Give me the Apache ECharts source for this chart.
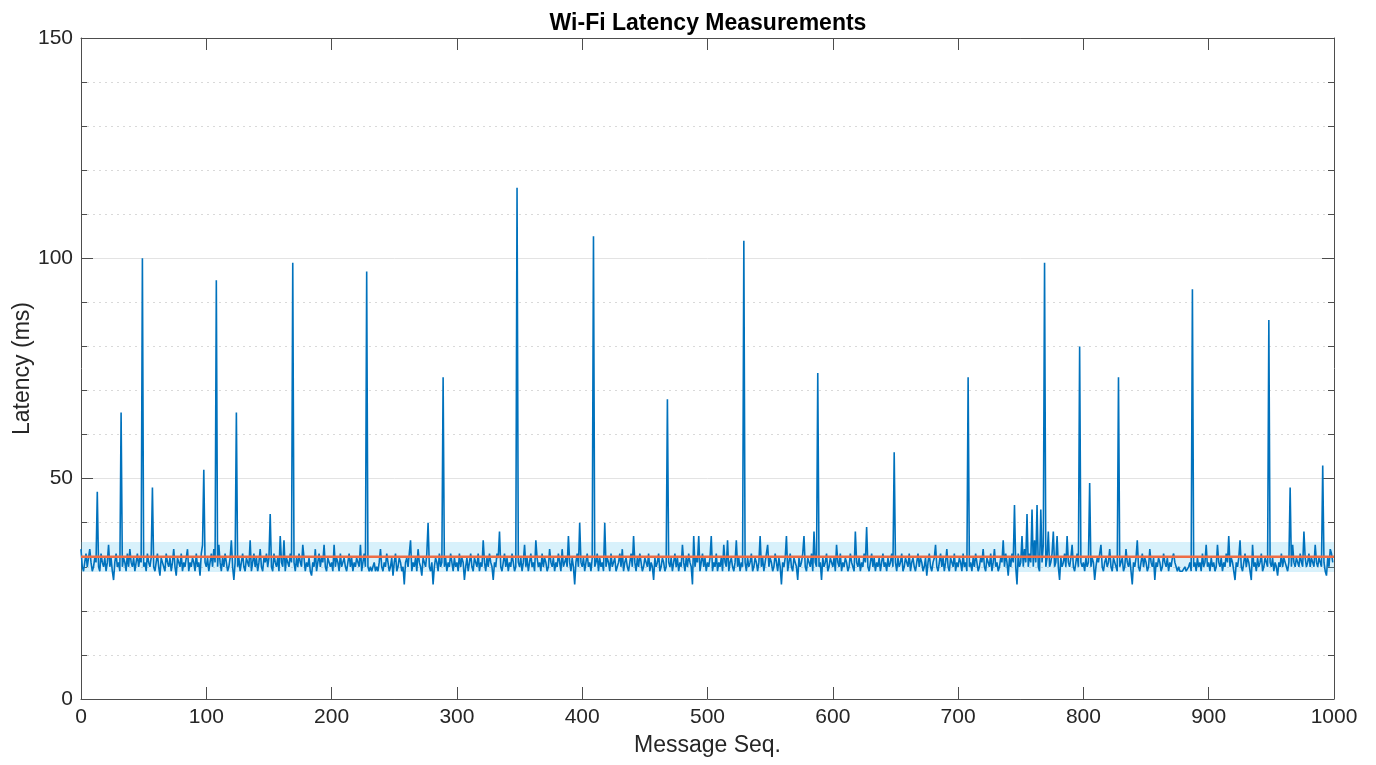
<!DOCTYPE html>
<html>
<head>
<meta charset="utf-8">
<title>Wi-Fi Latency Measurements</title>
<script src="https://cdn.jsdelivr.net/npm/echarts@6/dist/echarts.min.js"></script>
<style>
  html, body { margin: 0; padding: 0; background: #fff; }
  #chart { width: 1376px; height: 765px; }
</style>
</head>
<body>
<div id="chart"></div>
<script>
// latency per message, 100 messages per block (ms)
const block0 = [34,30,29,31,33,30,32,34,31,29, 30,32,31,47,30,29,33,31,30,32, 29,31,35,30,32,29,27,31,33,30, 31,29,65,30,32,31,29,33,30,34, 31,30,32,29,31,33,30,32,31,100, 30,31,29,33,31,30,32,48,30,29, 31,33,30,28,32,31,30,29,33,31, 30,32,29,31,34,30,28,32,31,30, 33,29,31,30,32,34,29,31,30,32, 31,29,33,30,31,28,33,35,52,31]
const block1 = [30,32,29,31,33,30,34,31,95,30, 35,31,29,32,30,33,31,29,30,32, 36,30,27,31,65,30,32,29,31,33, 30,29,32,31,30,36,29,31,33,30, 32,29,31,34,30,29,32,31,33,30, 32,42,30,29,33,31,30,32,29,37, 31,30,36,29,32,31,30,33,31,99, 31,29,32,30,33,31,30,35,32,29, 31,30,32,29,28,31,30,34,29,31, 33,30,32,31,35,30,29,32,31,30]
const block2 = [31,29,35,30,32,31,29,33,30,31, 32,30,29,31,33,30,32,29,31,30, 32,31,30,35,29,31,33,30,97,30, 29,30,29,30,31,29,30,29,31,34, 30,29,31,30,33,31,29,30,32,28, 31,33,29,30,32,31,29,30,26,31, 32,30,33,36,29,31,30,32,29,34, 31,30,28,32,31,30,33,40,30,29, 31,26,30,32,31,29,33,30,31,73, 30,32,29,31,30,33,31,29,32,30]
const block3 = [31,29,33,30,32,31,27,30,32,29, 31,33,30,29,32,31,30,33,29,31, 30,36,31,29,32,30,33,31,30,27, 31,30,33,32,38,30,29,31,33,30, 32,29,31,30,33,31,29,30,116,31, 30,32,29,31,35,30,32,29,31,33, 30,31,29,36,32,30,31,29,33,30, 32,31,29,30,34,31,30,32,29,31, 30,33,31,29,34,30,31,32,30,37, 31,29,32,30,26,31,33,30,40,31]
const block4 = [30,32,29,31,33,30,31,29,32,105, 30,31,33,29,32,30,31,29,40,30, 32,31,29,33,30,31,32,29,30,31, 33,30,34,29,31,32,30,29,31,33, 30,37,31,29,32,30,33,31,29,30, 32,31,30,33,29,31,30,27,32,30, 31,33,29,30,32,31,29,30,68,31, 30,32,29,31,33,30,32,29,31,30, 35,31,29,32,30,33,31,30,26,37, 30,32,31,37,29,31,33,30,32,29]
const block5 = [31,30,32,37,29,31,30,33,29,31, 30,32,29,35,31,30,36,29,31,32, 30,29,31,36,30,32,29,31,30,104, 31,29,32,30,31,33,29,30,32,31, 29,31,37,30,32,29,31,33,35,30, 32,31,29,30,33,31,29,32,30,26, 31,30,32,37,29,31,33,30,29,32, 31,30,27,32,30,31,33,37,30,29, 32,31,30,33,29,38,31,30,74,30, 31,27,32,30,31,33,29,30,32,31]
const block6 = [30,32,29,35,31,30,33,29,31,30, 32,31,29,30,33,31,30,29,38,31, 30,32,29,31,30,33,31,39,30,29, 31,33,30,32,29,31,30,32,29,31, 33,30,31,29,32,30,31,33,30,56, 31,29,32,30,31,33,29,30,32,31, 30,33,29,31,32,30,29,31,33,30, 32,31,29,30,32,28,31,33,30,29, 31,32,35,30,29,31,33,30,32,29, 31,34,30,29,32,31,30,33,29,31]
const block7 = [30,32,31,29,33,30,31,29,73,30, 31,29,32,30,33,31,29,30,32,31, 34,30,29,32,31,30,33,29,31,34, 30,31,29,30,32,31,36,30,33,31, 28,32,30,33,31,44,30,26,33,30, 31,37,30,34,31,42,30,33,31,43, 30,36,31,44,30,29,43,31,35,99, 30,32,38,30,31,33,38,30,31,37, 30,27,32,30,31,33,30,37,31,30, 32,35,30,29,31,33,30,80,31,30]
const block8 = [31,29,32,30,31,49,30,32,31,27, 30,32,31,33,35,30,29,31,32,30, 31,34,30,29,32,31,30,29,73,30, 31,32,29,30,34,31,30,32,29,26, 31,30,32,36,30,29,31,33,30,32, 31,29,30,34,31,30,32,27,31,30, 32,31,29,30,33,31,30,32,29,31, 30,32,33,31,30,29,30,29,29,29, 29,30,29,29,30,31,29,93,30,31, 29,32,30,31,29,33,30,31,35,30]
const block9 = [31,29,32,30,31,29,30,35,31,30, 32,29,31,30,33,31,37,30,32,31, 29,27,31,30,32,36,30,29,31,33, 30,32,31,29,27,35,30,31,29,32, 30,31,33,29,30,32,31,30,86,31, 30,32,29,31,30,28,31,30,33,30, 32,31,30,29,31,48,30,35,31,30, 32,31,30,33,31,30,38,32,30,31, 33,30,32,31,30,35,31,30,32,31, 30,53,31,29,28,32,30,34,33,31]

const latency = [].concat(block0, block1, block2, block3, block4, block5, block6, block7, block8, block9)
const meanLatency = 32.3
const bandLow = 28.8
const bandHigh = 35.6
const xTicks = [0, 100, 200, 300, 400, 500, 600, 700, 800, 900, 1000]
const yTicks = [0, 50, 100, 150]

const FONT = '"Liberation Sans", Helvetica, Arial, sans-serif'
const AXIS_COLOR = '#4d4d4d'
const TEXT_COLOR = '#262626'

const chart = echarts.init(document.getElementById('chart'), null, { renderer: 'canvas' })

const seriesData = latency.map((v, i) => [i, v])

chart.setOption({
  animation: false,
  backgroundColor: '#ffffff',
  title: {
    text: 'Wi-Fi Latency Measurements',
    left: 703,
    textAlign: 'center',
    top: 7,
    textStyle: { fontFamily: FONT, fontSize: 23, fontWeight: 'bold', color: '#000' }
  },
  grid: { left: 81, right: 42, top: 38, bottom: 66, containLabel: false, outerBoundsMode: 'none' },
  xAxis: [{
    type: 'value',
    min: xTicks[0],
    max: xTicks[xTicks.length - 1],
    interval: 100,
    name: 'Message Seq.',
    nameLocation: 'middle',
    nameGap: 35,
    nameMoveOverlap: false,
    nameTextStyle: { fontFamily: FONT, fontSize: 23, color: TEXT_COLOR },
    axisLine: { show: true, onZero: false, lineStyle: { color: AXIS_COLOR, width: 1 } },
    axisTick: { show: true, inside: true, length: 12, lineStyle: { color: AXIS_COLOR } },
    axisLabel: { fontFamily: FONT, fontSize: 21, color: TEXT_COLOR, margin: 8, formatter: v => String(v) },
    splitLine: { show: false }
  }, {
    type: 'value',
    position: 'top',
    min: xTicks[0],
    max: xTicks[xTicks.length - 1],
    interval: 100,
    axisLine: { show: true, onZero: false, lineStyle: { color: AXIS_COLOR, width: 1 } },
    axisTick: { show: true, inside: true, length: 12, lineStyle: { color: AXIS_COLOR } },
    axisLabel: { show: false },
    splitLine: { show: false }
  }],
  yAxis: [{
    type: 'value',
    min: yTicks[0],
    max: yTicks[yTicks.length - 1],
    interval: 50,
    name: 'Latency (ms)',
    nameLocation: 'middle',
    nameGap: 47,
    nameMoveOverlap: false,
    nameTextStyle: { fontFamily: FONT, fontSize: 23, color: TEXT_COLOR },
    axisLine: { show: true, onZero: false, lineStyle: { color: AXIS_COLOR, width: 1 } },
    axisTick: { show: true, inside: true, length: 12, lineStyle: { color: AXIS_COLOR } },
    minorTick: { show: true, splitNumber: 5, length: 6, lineStyle: { color: AXIS_COLOR } },
    axisLabel: { fontFamily: FONT, fontSize: 21, color: TEXT_COLOR, margin: 8, formatter: v => String(v) },
    splitLine: { show: true, lineStyle: { color: '#e3e3e3', width: 1 } },
    minorSplitLine: { show: true, lineStyle: { color: '#d9d9d9', width: 1, type: [2, 4] } }
  }, {
    type: 'value',
    position: 'right',
    min: yTicks[0],
    max: yTicks[yTicks.length - 1],
    interval: 50,
    axisLine: { show: true, onZero: false, lineStyle: { color: AXIS_COLOR, width: 1 } },
    axisTick: { show: true, inside: true, length: 12, lineStyle: { color: AXIS_COLOR } },
    minorTick: { show: true, splitNumber: 5, length: 6, lineStyle: { color: AXIS_COLOR } },
    axisLabel: { show: false },
    splitLine: { show: false }
  }],
  series: [
    {
      name: 'band',
      type: 'line',
      data: [],
      z: 1,
      markArea: {
        silent: true,
        itemStyle: { color: 'rgba(77, 190, 238, 0.22)' },
        data: [[{ yAxis: bandLow, xAxis: 0 }, { yAxis: bandHigh, xAxis: 1000 }]]
      }
    },
    {
      name: 'Latency',
      type: 'line',
      data: seriesData,
      z: 2,
      showSymbol: false,
      symbol: 'none',
      lineStyle: { color: '#0072BD', width: 1.6 },
      clip: true
    },
    {
      name: 'Mean',
      type: 'line',
      data: [[0, meanLatency], [1000, meanLatency]],
      z: 3,
      symbol: 'none',
      lineStyle: { color: '#EE6D45', width: 2.5 }
    }
  ]
})
</script>
</body>
</html>
